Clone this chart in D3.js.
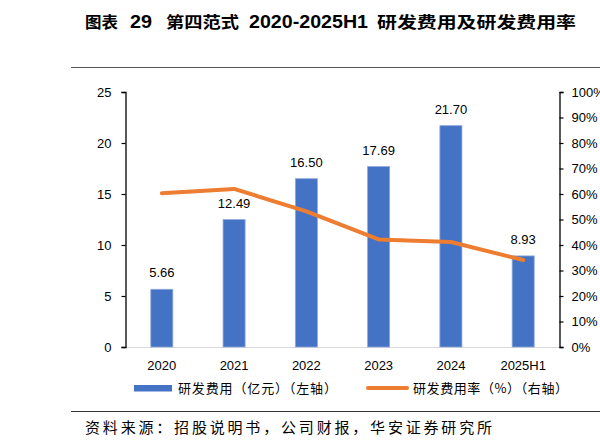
<!DOCTYPE html>
<html lang="zh-CN">
<head>
<meta charset="utf-8">
<title>第四范式 研发费用</title>
<script src="https://d3js.org/d3.v7.min.js"></script>
<style>
  body { margin: 0; background: #fff; }
  svg { display: block; }
  text { font-family: "Liberation Sans", Arial, sans-serif; fill: #000; }
  .cjk { font-family: "Noto Sans CJK SC", sans-serif; }
</style>
</head>
<body>
<script>
// data
var years = ["2020", "2021", "2022", "2023", "2024", "2025H1"];
var rdCost = [5.66, 12.49, 16.50, 17.69, 21.70, 8.93];        // 亿元
var rdRate = [60.3, 62.0, 53.2, 42.2, 41.2, 34.1];            // %
var leftTicks = [0, 5, 10, 15, 20, 25];
var rightTicks = [0, 10, 20, 30, 40, 50, 60, 70, 80, 90, 100];

var W = 600, H = 448;
var pL = 125.5, pR = 559.5, pT = 92, pB = 347;

var svg = d3.select("body").append("svg")
  .attr("width", W).attr("height", H);

// title, pieces set one after another like the original
var titleParts = [
  { t: "图表", x: 85, w: 33, cjk: true },
  { t: "29", x: 130, w: 22, cjk: false },
  { t: "第四范式", x: 166, w: 73, cjk: true },
  { t: "2020-2025H1", x: 249, w: 119, cjk: false },
  { t: "研发费用及研发费用率", x: 377, w: 199, cjk: true }
];
svg.selectAll("text.title").data(titleParts).enter().append("text")
  .attr("class", function(d) { return d.cjk ? "title cjk" : "title"; })
  .attr("x", function(d) { return d.x; }).attr("y", 28)
  .attr("font-size", function(d) { return d.cjk ? 16 : 19; })
  .attr("font-weight", "bold")
  .attr("textLength", function(d) { return d.w; }).attr("lengthAdjust", "spacingAndGlyphs")
  .text(function(d) { return d.t; });

// rules
svg.append("line").attr("x1", 71).attr("x2", 600).attr("y1", 67.5).attr("y2", 67.5)
  .attr("stroke", "#555").attr("stroke-width", 1.2);
svg.append("line").attr("x1", 71).attr("x2", 600).attr("y1", 411.5).attr("y2", 411.5)
  .attr("stroke", "#333").attr("stroke-width", 1.2);

// scales
var x = d3.scaleBand().domain(years).range([pL, pR]).paddingInner(0.695).paddingOuter(0.35);
var yL = d3.scaleLinear().domain([0, 25]).range([pB, pT]);
var yR = d3.scaleLinear().domain([0, 100]).range([pB, pT]);

// baseline
svg.append("line").attr("x1", pL).attr("x2", pR).attr("y1", pB + 0.5).attr("y2", pB + 0.5)
  .attr("stroke", "#d9d9d9").attr("stroke-width", 1);

// bars
svg.selectAll("rect.bar").data(rdCost).enter().append("rect")
  .attr("class", "bar")
  .attr("x", function(d, i) { return x(years[i]); })
  .attr("width", x.bandwidth())
  .attr("y", function(d) { return yL(d); })
  .attr("height", function(d) { return pB - yL(d); })
  .attr("fill", "#4472C4")
  .attr("stroke", "#8faadc").attr("stroke-width", 0.8);

// bar labels
svg.selectAll("text.val").data(rdCost).enter().append("text")
  .attr("class", "val")
  .attr("x", function(d, i) { return x(years[i]) + x.bandwidth() / 2; })
  .attr("y", function(d) { return yL(d) - 12; })
  .attr("text-anchor", "middle").attr("font-size", 13)
  .text(function(d) { return d.toFixed(2); });

// line
var line = d3.line()
  .x(function(d, i) { return x(years[i]) + x.bandwidth() / 2; })
  .y(function(d) { return yR(d); });
svg.append("path").datum(rdRate)
  .attr("d", line)
  .attr("fill", "none").attr("stroke", "#ED7D31").attr("stroke-width", 4)
  .attr("stroke-linejoin", "round").attr("stroke-linecap", "round");

// axes
var axL = svg.append("g").attr("transform", "translate(" + pL + ",0)")
  .call(d3.axisLeft(yL).tickValues(leftTicks).tickSize(4).tickPadding(10));
var axR = svg.append("g").attr("transform", "translate(" + pR + ",0)")
  .call(d3.axisRight(yR).tickValues(rightTicks).tickSize(4).tickPadding(8)
    .tickFormat(function(d) { return d + "%"; }));
[axL, axR].forEach(function(g) {
  g.select(".domain").attr("stroke", "#000").attr("stroke-width", 1.3);
  g.selectAll(".tick line").attr("stroke", "#000").attr("stroke-width", 1.2);
  g.selectAll(".tick text").attr("font-size", 13).attr("font-family", "Liberation Sans, Arial, sans-serif").attr("fill", "#000");
});

// x labels
svg.selectAll("text.xl").data(years).enter().append("text")
  .attr("class", "xl")
  .attr("x", function(d) { return x(d) + x.bandwidth() / 2; })
  .attr("y", 370)
  .attr("text-anchor", "middle").attr("font-size", 13)
  .text(function(d) { return d; });

// legend
svg.append("rect").attr("x", 134).attr("y", 385).attr("width", 38).attr("height", 6.5).attr("fill", "#4472C4");
svg.append("text").attr("class", "cjk").attr("x", 178).attr("y", 393).attr("font-size", 13)
  .attr("textLength", 159).attr("lengthAdjust", "spacing")
  .text("研发费用（亿元）（左轴）");
svg.append("line").attr("x1", 368).attr("x2", 407).attr("y1", 388).attr("y2", 388)
  .attr("stroke", "#ED7D31").attr("stroke-width", 4).attr("stroke-linecap", "round");
svg.append("text").attr("class", "cjk").attr("x", 413).attr("y", 393).attr("font-size", 13)
  .attr("textLength", 155).attr("lengthAdjust", "spacing")
  .text("研发费用率（%）（右轴）");

// source
svg.append("text").attr("class", "cjk").attr("x", 85).attr("y", 433).attr("font-size", 15)
  .attr("textLength", 407).attr("lengthAdjust", "spacing")
  .text("资料来源：招股说明书，公司财报，华安证券研究所");
</script>
</body>
</html>
